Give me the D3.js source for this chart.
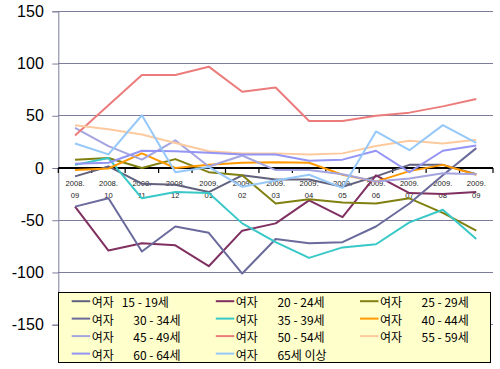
<!DOCTYPE html>
<html><head><meta charset="utf-8">
<script src="https://cdn.jsdelivr.net/npm/d3@7"></script>
<style>html,body{margin:0;padding:0;background:#fff;}svg{display:block;}</style>
</head><body>
<svg id="chart" width="500" height="369"></svg>
<script>
// ---- data ----
const categories = ["2008.09","2008.10","2008.11","2008.12","2009.01","2009.02","2009.03","2009.04","2009.05","2009.06","2009.07","2009.08","2009.09"];
const yTicks = [150, 100, 50, 0, -50, -100, -150];
const seriesNames = ["여자 15 - 19세","여자 20 - 24세","여자 25 - 29세","여자 30 - 34세","여자 35 - 39세","여자 40 - 44세","여자 45 - 49세","여자 50 - 54세","여자 55 - 59세","여자 60 - 64세","여자 65세 이상"];
const f15_19 = [-8, 1.5, -15, -16, -23, -7, -11, -11, -18, -8, 3, 3, -6];
const f20_24 = [-37, -79, -72, -74, -94, -60, -53, -31, -47, -7, -24, -25, -23];
const f25_29 = [8, 9.5, 0, 8.5, -4, -7, -34, -30, -33, -34, -29, -43, -60];
const f30_34 = [-37, -29, -80, -56, -62, -101, -68, -72, -71, -56, -34, -7, 19];
const f35_39 = [3, 9.5, -29, -23, -24, -53, -71, -86, -76, -73, -52, -40, -68];
const f40_44 = [-2, -0.5, 14, 0, 3, 5, 5.5, 5, -6.5, -13, -3, 3, -6.5];
const f45_49 = [38.5, 21, 8, 26.5, 1.5, 12, -2, -2, -6, -13, -10, -5, -6];
const f50_54 = [31, 60, 89, 89, 97, 73, 77, 45, 45, 50, 53, 59, 66];
const f55_59 = [41, 37, 32, 24, 16, 14, 14, 13, 14, 21, 26, 23.5, 27];
const f60_64 = [4, 5, 16.5, 16, 14.5, 13, 13, 7, 8, 16.5, -4, 16.5, 21.5];
const f65up  = [23.5, 13, 50.5, -4, 1, -18, -12, -6.5, -19, 35, 17, 41, 24];
const seriesValues = [f15_19, f20_24, f25_29, f30_34, f35_39, f40_44, f45_49, f50_54, f55_59, f60_64, f65up];
const colors = ["#62627e","#803060","#808010","#6a6a9c","#38c8c8","#ff9900","#a4a4e0","#ec7c7c","#fcca9e","#9494f4","#96c8fa"];

// ---- layout ----
const svg = d3.select("#chart");
const pLeft = 58.3, pRight = 493, pTop = 11.3, pBottom = 324.7;
const x = d3.scaleBand().domain(categories).range([pLeft, pRight]).padding(0);
const xc = c => x(c) + x.bandwidth() / 2;
const y = d3.scaleLinear().domain([-150, 150]).range([pBottom, pTop]);
const gridColor = "#7c7c9c";

// gridlines
svg.append("g").selectAll("line").data(yTicks.filter(t => t !== 0)).join("line")
  .attr("x1", pLeft).attr("x2", pRight).attr("y1", d => y(d)).attr("y2", d => y(d))
  .attr("stroke", gridColor).attr("stroke-width", 1).attr("shape-rendering", "crispEdges");

// y axis
const yAxis = d3.axisLeft(y).tickValues(yTicks).tickSize(6).tickPadding(8).tickFormat(d => String(d));
const gy = svg.append("g").attr("transform", `translate(${pLeft},0)`).call(yAxis);
gy.select(".domain").attr("stroke", gridColor);
gy.selectAll(".tick line").attr("stroke", gridColor);
gy.selectAll(".tick text").attr("fill", "#000")
  .style("font-family", "'Liberation Sans', Arial, sans-serif").style("font-size", "16px");
gy.selectAll(".tick text").attr("x", -14.5);

// zero axis with category ticks
const bounds = categories.map(c => x(c)).concat([pRight]);
svg.append("line").attr("x1", pLeft).attr("x2", pRight).attr("y1", y(0)).attr("y2", y(0))
  .attr("stroke", "#000").attr("stroke-width", 2);
svg.append("g").selectAll("line").data(bounds).join("line")
  .attr("x1", d => d).attr("x2", d => d).attr("y1", y(0)).attr("y2", y(0) + 5)
  .attr("stroke", "#000").attr("stroke-width", 1.2);

// category labels
const cl = svg.append("g").style("font-family", "'Liberation Sans', Arial, sans-serif")
  .style("font-size", "7.6px").attr("fill", "#222").attr("text-anchor", "middle");
categories.forEach(c => {
  const [yr, mo] = c.split(".");
  cl.append("text").attr("x", xc(c)).attr("y", y(0) + 18).text(yr + ".");
  cl.append("text").attr("x", xc(c)).attr("y", y(0) + 29.5).text(mo);
});

// series lines
const line = d3.line().x((d, i) => xc(categories[i])).y(d => y(d));
svg.append("g").selectAll("path").data(seriesValues).join("path")
  .attr("d", d => line(d)).attr("fill", "none")
  .attr("stroke", (d, i) => colors[i]).attr("stroke-width", 2)
  .attr("stroke-linejoin", "round");

// legend
const lg = svg.append("g");
lg.append("rect").attr("x", 58.5).attr("y", 292.5).attr("width", 432).attr("height", 70)
  .attr("fill", "#ffffcc").attr("stroke", "#000").attr("stroke-width", 1);
const colX = [71.7, 215.8, 360];
const rowY = [301.2, 318.6, 336.1, 353.6];
seriesNames.forEach((name, i) => {
  const cx = colX[i % 3], cy = rowY[Math.floor(i / 3)];
  lg.append("line").attr("x1", cx).attr("x2", cx + 18.5).attr("y1", cy).attr("y2", cy)
    .attr("stroke", colors[i]).attr("stroke-width", 2);
  const sp = name.indexOf(" ");
  const pre = name.slice(0, sp), rest = name.slice(sp + 1);
  const t = lg.append("text").attr("y", cy).attr("dominant-baseline", "central")
    .style("font-family", "'Noto Sans CJK KR', sans-serif").style("font-size", "12px").attr("fill", "#000");
  t.append("tspan").attr("x", cx + 20).text(pre);
  t.append("tspan").attr("x", cx + (i === 0 ? 50 : 61.6)).text(rest);
});
</script>
</body></html>
